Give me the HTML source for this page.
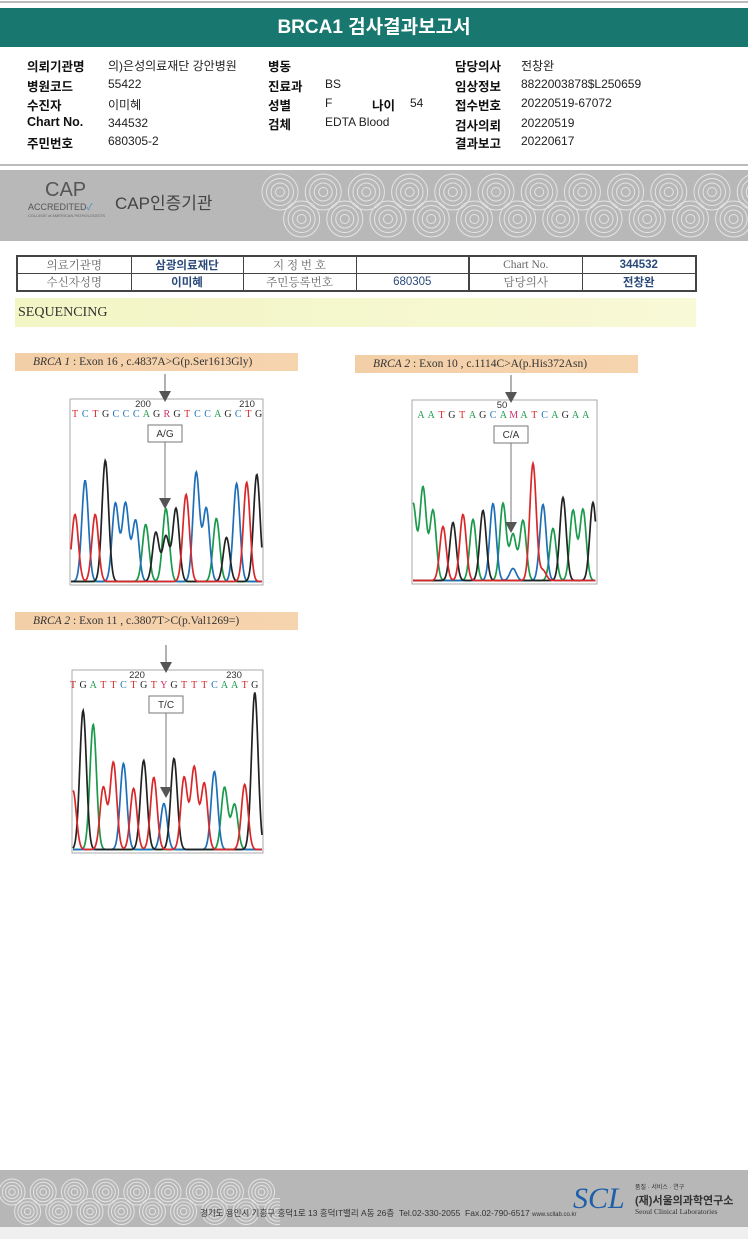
<!DOCTYPE html>
<html><head><meta charset="utf-8"><style>
body{margin:0;width:748px;height:1239px;position:relative;background:#fff;font-family:"Liberation Sans","Noto Sans CJK KR",sans-serif;overflow:hidden}
.a{position:absolute;white-space:nowrap}
.l{font-weight:bold;font-size:12.5px;color:#111}
.v{font-size:12px;color:#222}
.tb td{border:1px solid #444;font-size:11.5px;color:#666;text-align:center;padding:0;height:14px;font-family:"Liberation Serif","Noto Serif CJK SC",serif}
.tb td.b{color:#2a4a7a;font-weight:bold;font-family:"Liberation Sans","Noto Sans CJK KR",sans-serif}
.lab{position:absolute;height:18px;background:linear-gradient(90deg,#f3cfa8,#f6d4ae);font-family:"Liberation Serif",serif;font-size:11.5px;color:#333;line-height:18px;padding-left:18px;box-sizing:border-box}
</style></head><body>
<div class="a" style="left:0;top:1px;width:748px;height:2px;background:#bbb"></div>
<div class="a" style="left:0;top:8px;width:748px;height:39px;background:#18786f;color:#fff;font-weight:bold;font-size:19px;line-height:40px;text-align:center">BRCA1 검사결과보고서</div>

<div>
<div class="a l" style="left:27px;top:56px">의뢰기관명</div><div class="a v" style="left:108px;top:57px">의)은성의료재단 강안병원</div>
<div class="a l" style="left:27px;top:76px">병원코드</div><div class="a v" style="left:108px;top:77px">55422</div>
<div class="a l" style="left:27px;top:95px">수진자</div><div class="a v" style="left:108px;top:96px">이미혜</div>
<div class="a l" style="left:27px;top:115px">Chart No.</div><div class="a v" style="left:108px;top:116px">344532</div>
<div class="a l" style="left:27px;top:133px">주민번호</div><div class="a v" style="left:108px;top:134px">680305-2</div>
<div class="a l" style="left:268px;top:56px">병동</div>
<div class="a l" style="left:268px;top:76px">진료과</div><div class="a v" style="left:325px;top:77px">BS</div>
<div class="a l" style="left:268px;top:95px">성별</div><div class="a v" style="left:325px;top:96px">F</div>
<div class="a l" style="left:372px;top:95px">나이</div><div class="a v" style="left:410px;top:96px">54</div>
<div class="a l" style="left:268px;top:114px">검체</div><div class="a v" style="left:325px;top:115px">EDTA Blood</div>
<div class="a l" style="left:455px;top:56px">담당의사</div><div class="a v" style="left:521px;top:57px">전창완</div>
<div class="a l" style="left:455px;top:76px">임상정보</div><div class="a v" style="left:521px;top:77px">8822003878$L250659</div>
<div class="a l" style="left:455px;top:95px">접수번호</div><div class="a v" style="left:521px;top:96px">20220519-67072</div>
<div class="a l" style="left:455px;top:115px">검사의뢰</div><div class="a v" style="left:521px;top:116px">20220519</div>
<div class="a l" style="left:455px;top:133px">결과보고</div><div class="a v" style="left:521px;top:134px">20220617</div>
</div>
<div class="a" style="left:0;top:164px;width:748px;height:2px;background:#bbb"></div>

<div class="a" style="left:0;top:170px;width:748px;height:71px;background:#b7b8b7;overflow:hidden">
<svg id="wave1" width="748" height="71" style="position:absolute;left:0;top:0"></svg>
<div class="a" style="left:45px;top:9px;font-size:20px;color:#555">CAP</div>
<div class="a" style="left:28px;top:30px;font-size:9px;color:#555">ACCREDITED<span style="color:#3a8fc8">✓</span></div>
<div class="a" style="left:28px;top:43px;font-size:4px;color:#666">COLLEGE of AMERICAN PATHOLOGISTS</div>
<div class="a" style="left:115px;top:19px;font-size:17px;color:#444">CAP인증기관</div>
</div>

<table class="a tb" style="left:16px;top:255px;width:679px;border-collapse:collapse;border:2px solid #444;table-layout:fixed">
<colgroup><col style="width:114px"><col style="width:112px"><col style="width:113px"><col style="width:113px"><col style="width:113px"><col style="width:114px"></colgroup>
<tr><td>의료기관명</td><td class="b">삼광의료재단</td><td>지 정 번 호</td><td></td><td style="border-left:2px solid #444">Chart No.</td><td class="b">344532</td></tr>
<tr><td>수신자성명</td><td class="b">이미혜</td><td>주민등록번호</td><td class="b" style="font-weight:normal">680305</td><td style="border-left:2px solid #444">담당의사</td><td class="b">전창완</td></tr>
</table>

<div class="a" style="left:15px;top:298px;width:678px;height:29px;background:linear-gradient(90deg,#f2f5c4,#f8f9d6);font-family:'Liberation Serif',serif;font-size:14px;line-height:29px;padding-left:3px;color:#333">SEQUENCING</div>

<div class="lab" style="left:15px;top:353px;width:283px"><i>BRCA 1</i> : Exon 16 , c.4837A&gt;G(p.Ser1613Gly)</div>
<div class="lab" style="left:355px;top:355px;width:283px"><i>BRCA 2</i> : Exon 10 , c.1114C&gt;A(p.His372Asn)</div>
<div class="lab" style="left:15px;top:612px;width:283px"><i>BRCA 2</i> : Exon 11 , c.3807T&gt;C(p.Val1269=)</div>

<svg class="a" id="chrom" width="748" height="900" style="left:0;top:0"></svg>

<div class="a" style="left:0;top:1170px;width:748px;height:57px;background:#b6b7b6;overflow:hidden">
<svg id="wave2" width="280" height="57" style="position:absolute;left:0;top:0"></svg>
<div class="a" style="left:200px;top:37px;font-size:8.5px;color:#333">경기도 용인시 기흥구 흥덕1로 13 흥덕IT밸리 A동 26층 &nbsp;Tel.02-330-2055 &nbsp;Fax.02-790-6517 <span style="font-size:6px">www.scllab.co.kr</span></div>
<div class="a" style="left:573px;top:12px;font-size:30px;font-style:italic;font-family:'Liberation Serif',serif;color:#1d5fa8">SCL</div>
<div class="a" style="left:635px;top:12px;font-size:6px;color:#333">품질 · 서비스 · 연구</div>
<div class="a" style="left:635px;top:22px;font-size:11px;font-weight:bold;color:#333">(재)서울의과학연구소</div>
<div class="a" style="left:635px;top:37px;font-size:7.5px;font-family:'Liberation Serif',serif;color:#333">Seoul Clinical Laboratories</div>
</div>
<div class="a" style="left:0;top:1227px;width:748px;height:12px;background:#efefef"></div>

<script>
// Chart 1 data
const c1Bases = ['T','C','T','G','C','C','C','A','G','R','G','T','C','C','A','G','C','T','G'];
const c1PeakBase = ['T','C','T','G','C','C','C','A','G','A','G','T','C','C','A','G','C','T','G'];
const c1Heights = [67,101,67,121,78,78,61,57,49,73,73,87,109,73,63,44,98,99,107];
const c1Minor = [{i:9,b:'G',h:45}];
// Chart 2 data
const c2Bases = ['A','A','T','G','T','A','G','C','A','M','A','T','C','A','G','A','A'];
const c2PeakBase = ['A','A','A','T','G','T','A','G','C','A','A','A','T','C','A','G','A','A','G'];
const c2Heights = [77,93,70,54,58,66,61,70,77,77,46,60,117,76,52,83,70,71,78];
const c2Minor = [{i:10,b:'C',h:12},{i:13,b:'T',h:10}];
// Chart 3 data
const c3Bases = ['T','G','A','T','T','C','T','G','T','Y','G','T','T','T','C','A','A','T','G'];
const c3PeakBase = ['T','G','A','T','T','C','T','G','T','C','G','T','T','T','C','A','A','T','G'];
const c3Heights = [59,139,125,62,87,86,61,89,72,46,91,72,82,66,78,62,45,65,157];
const c3Minor = [];

const col = {A:'#1a9a4a',C:'#1f6fb8',G:'#222222',T:'#d8282a',R:'#d0306a',M:'#d0306a',Y:'#d0306a'};
const NS='http://www.w3.org/2000/svg';
const svg=document.getElementById('chrom');
function mk(t,a,p){const e=document.createElementNS(NS,t);for(const k in a)e.setAttribute(k,a[k]);(p||svg).appendChild(e);return e;}

function waves(s,x0,x1,cy,r){
  for(let x=x0;x<x1;x+=r*2.4){
    for(let k=0;k<4;k++){
      mk('circle',{cx:x,cy:cy,r:r-k*r/4,fill:'none',stroke:'#e4e4e4','stroke-width':1},s);
      mk('circle',{cx:x+r*1.2,cy:cy+r*1.5,r:r-k*r/4,fill:'none',stroke:'#e4e4e4','stroke-width':1},s);
    }
  }
}
waves(document.getElementById('wave1'),280,760,22,18);
waves(document.getElementById('wave2'),12,270,22,13);

function chart(o){
  const g=mk('g',{});
  
  
  const box=mk('rect',{x:o.x0,y:o.top,width:o.x1-o.x0,height:o.base-o.top+2,fill:'#fff',stroke:'#aaa','stroke-width':1},g);
  
  
  const xs=i=>o.px0+i*o.step;
  const ys=v=>o.base-v*o.scale;
  const peaks=o.pb.map((b,i)=>({i,b,h:o.h[i]})).concat(o.minor);
  ['A','C','G','T'].forEach(b=>{
    const pk=peaks.filter(p=>p.b===b);
    let d='';
    for(let x=o.x0+1;x<=o.x1-1;x+=0.6){
      let v=1.5;
      pk.forEach(p=>{const dx=x-xs(p.i);v+=p.h*Math.exp(-dx*dx/(2*o.sig*o.sig));});
      d+=(d?'L':'M')+x.toFixed(1)+' '+ys(v).toFixed(1);
    }
    const path=mk('path',{d,fill:'none',stroke:col[b],'stroke-width':1.7},g);
    
    
  });
  o.bases.forEach((b,i)=>{
    const t=mk('text',{x:o.lx0+i*o.lstep,y:o.top+18,fill:col[b],'font-size':10,'font-family':'Liberation Serif, serif','text-anchor':'middle'},g);
    t.textContent=b;
    
    
  });
  o.nums.forEach(n=>{
    const t=mk('text',{x:n.x,y:o.top+8,fill:'#333','font-size':9.5,'text-anchor':'middle'},g);
    t.textContent=n.t;
    
    
  });
  mk('line',{x1:o.ax,y1:o.top-25,x2:o.ax,y2:o.top-6,stroke:'#666','stroke-width':1},g);
  mk('path',{d:`M${o.ax-6} ${o.top-8}L${o.ax+6} ${o.top-8}L${o.ax} ${o.top+3}Z`,fill:'#555'},g);
  mk('rect',{x:o.ax-17,y:o.top+26,width:34,height:17,fill:'#fff',stroke:'#777'},g);
  const lt=mk('text',{x:o.ax,y:o.top+38,'font-size':10,fill:'#333','text-anchor':'middle'},g);
  lt.textContent=o.label;
  
  
  mk('line',{x1:o.ax,y1:o.top+43,x2:o.ax,y2:o.aend-8,stroke:'#777','stroke-width':1},g);
  mk('path',{d:`M${o.ax-6} ${o.aend-10}L${o.ax+6} ${o.aend-10}L${o.ax} ${o.aend+1}Z`,fill:'#555'},g);
}
chart({name:'chromatogram-1',x0:70,x1:263,top:399,base:583,px0:75,step:10.1,sig:3.3,scale:1,pb:c1PeakBase,h:c1Heights,minor:c1Minor,bases:c1Bases,lx0:75,lstep:10.2,nums:[{x:143,t:'200'},{x:247,t:'210'}],ax:165,label:'A/G',aend:508});
chart({name:'chromatogram-2',x0:412,x1:597,top:400,base:582,px0:413,step:10,sig:3.2,scale:1,pb:c2PeakBase,h:c2Heights,minor:c2Minor,bases:c2Bases,lx0:421,lstep:10.3,nums:[{x:502,t:'50'}],ax:511,label:'C/A',aend:532});
chart({name:'chromatogram-3',x0:72,x1:263,top:670,base:851,px0:73,step:10.1,sig:3.3,scale:1,pb:c3PeakBase,h:c3Heights,minor:c3Minor,bases:c3Bases,lx0:73,lstep:10.1,nums:[{x:137,t:'220'},{x:234,t:'230'}],ax:166,label:'T/C',aend:797});
</script>
</body></html>
